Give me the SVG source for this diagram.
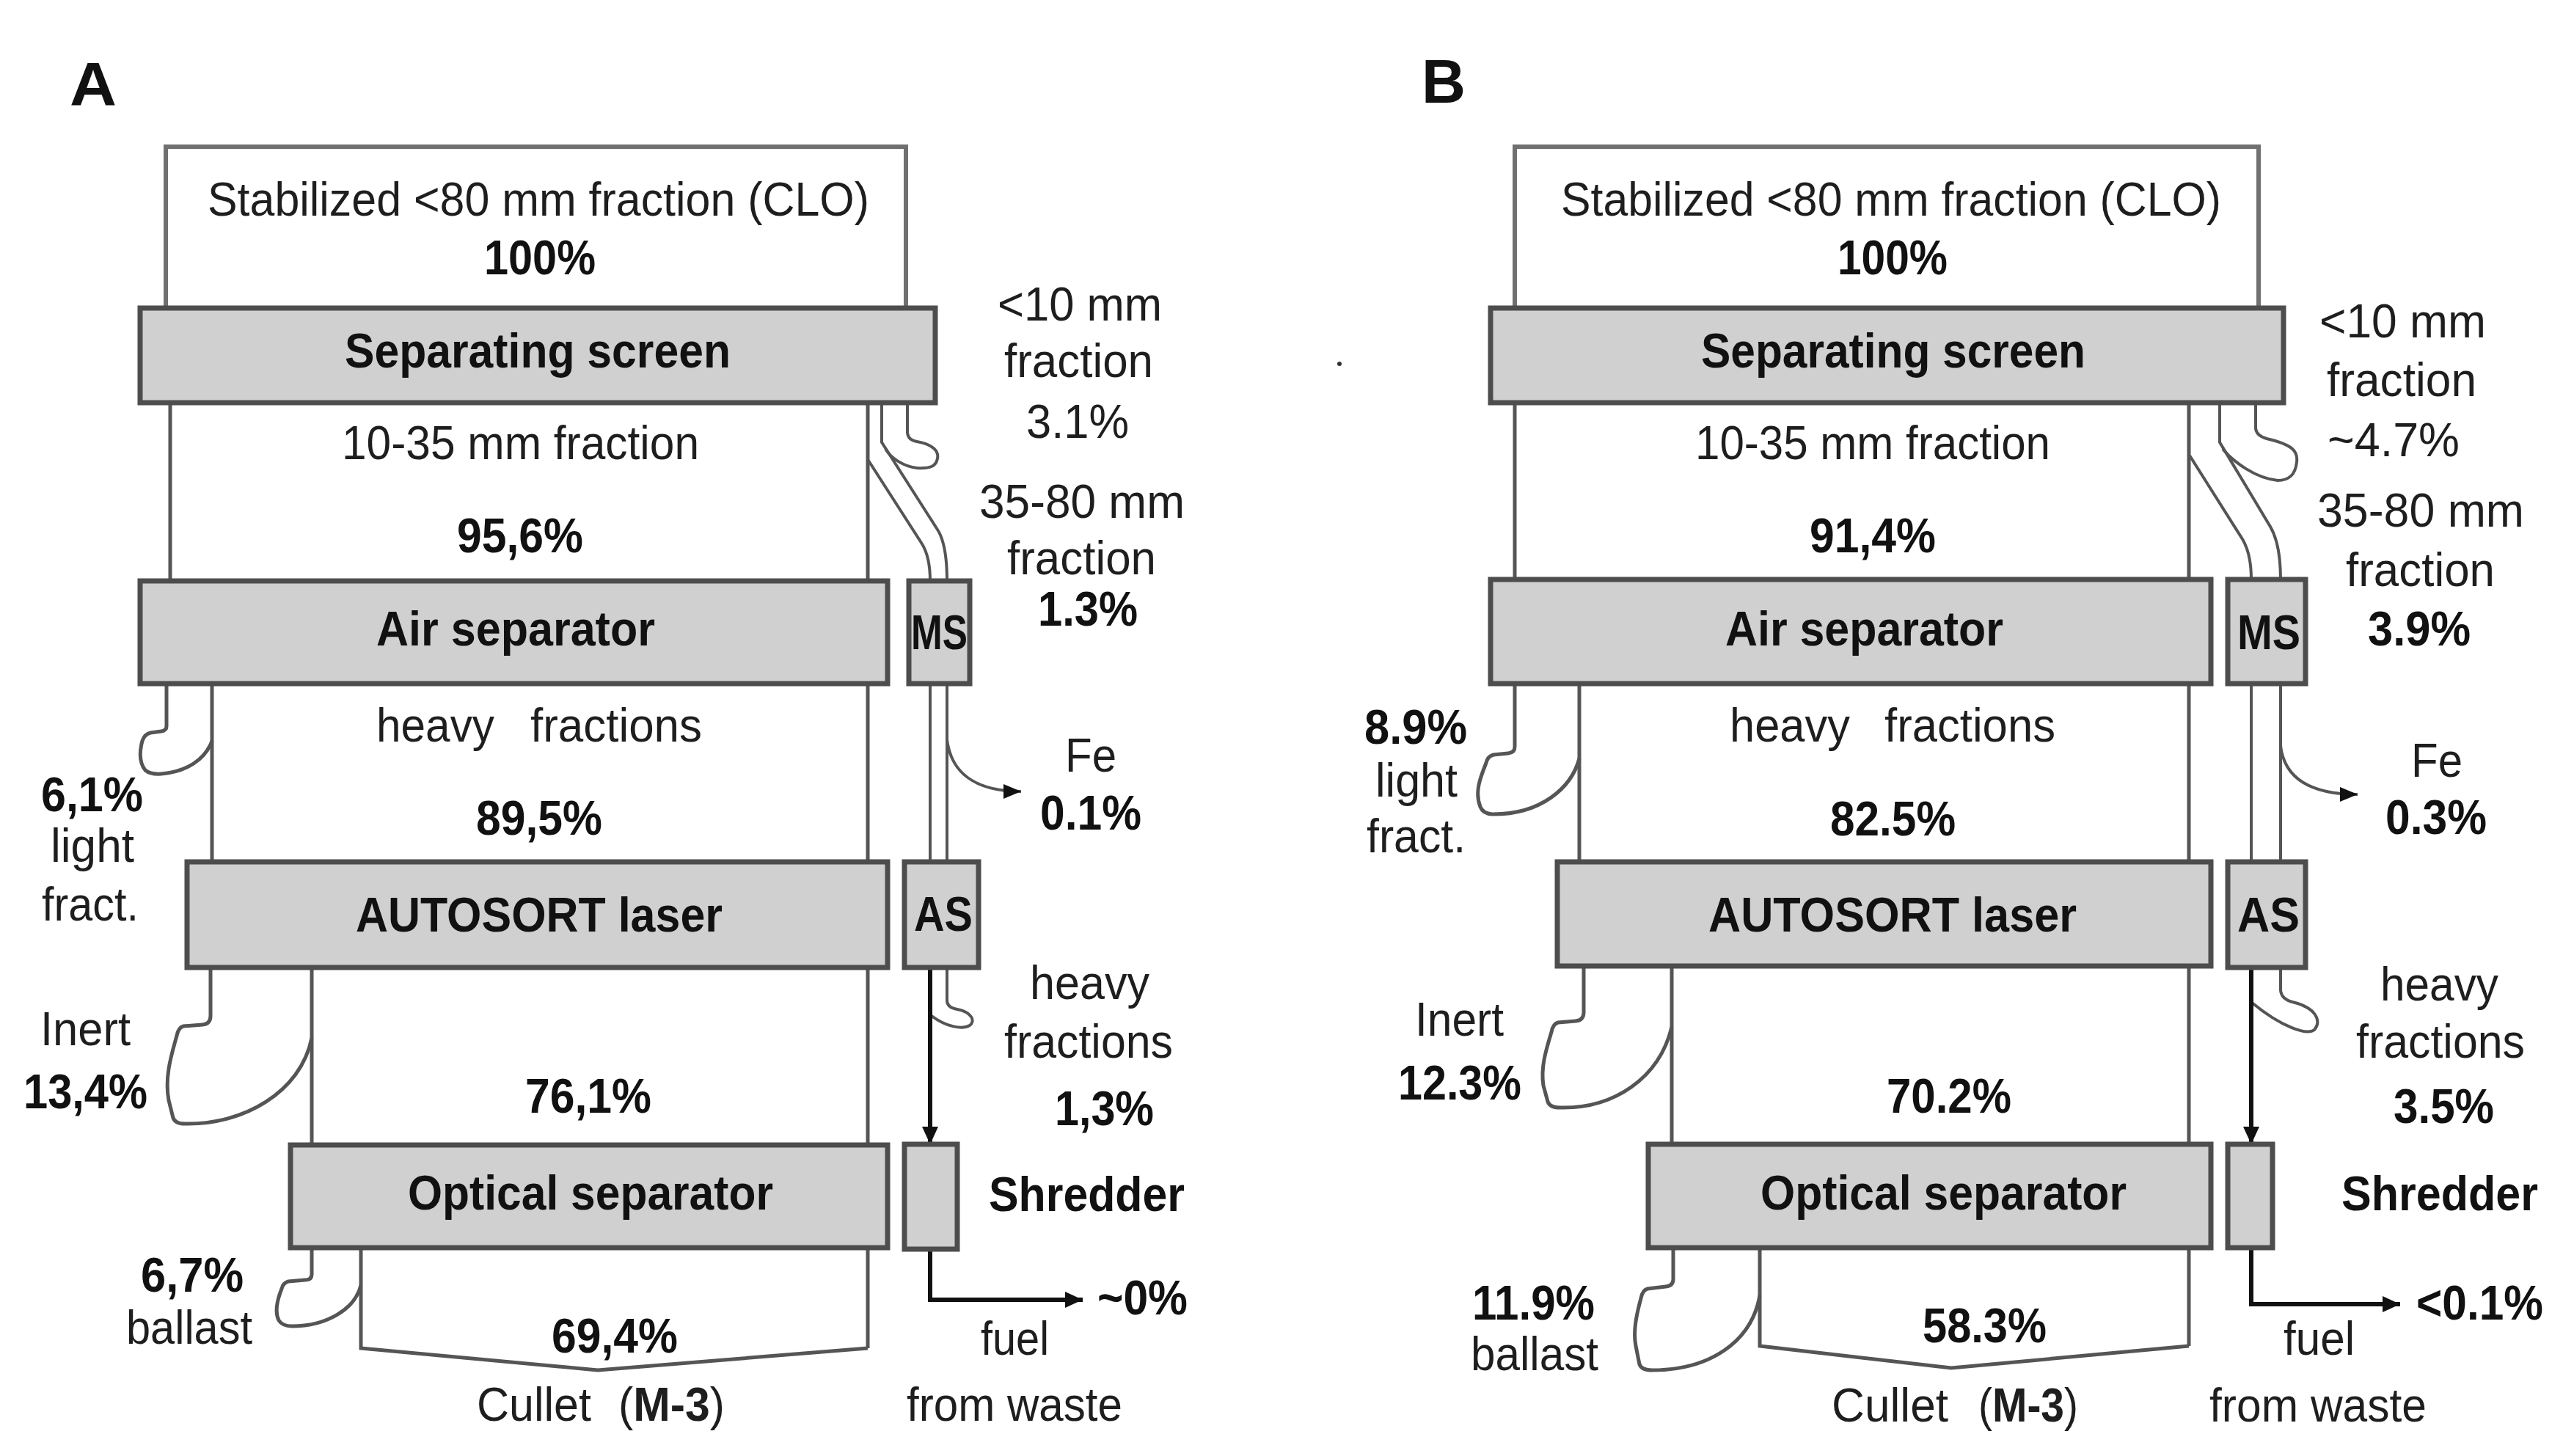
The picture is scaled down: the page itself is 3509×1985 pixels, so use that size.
<svg xmlns="http://www.w3.org/2000/svg" width="3509" height="1985" viewBox="0 0 3509 1985">
<style>
text{font-family:"Liberation Sans",Arial,sans-serif;font-size:64px;fill:#1e1e1e}
.b{font-weight:bold;font-size:66px;fill:#111}
.lbl{font-weight:bold;font-size:84px;fill:#111}
.box{fill:#d0d0d0;stroke:#4d4d4d;stroke-width:7}
.top{fill:#fff;stroke:#707070;stroke-width:6}
.w{fill:none;stroke:#555;stroke-width:5}
.t{fill:none;stroke:#555;stroke-width:4}
.k{fill:none;stroke:#111;stroke-width:6}
</style>
<defs>
<marker id="ah" markerUnits="userSpaceOnUse" markerWidth="26" markerHeight="24" refX="24" refY="12" orient="auto"><path d="M0,1 L24,12 L0,23 Z" fill="#111"/></marker>
<marker id="ahs" markerUnits="userSpaceOnUse" markerWidth="26" markerHeight="24" refX="24" refY="12" orient="auto"><path d="M0,2 L24,12 L0,22 Z" fill="#111"/></marker>
</defs>
<rect width="3509" height="1985" fill="#fff"/>
<text class="lbl" x="95" y="144" textLength="64" lengthAdjust="spacingAndGlyphs">A</text>
<text class="lbl" x="1938" y="140" textLength="60" lengthAdjust="spacingAndGlyphs">B</text>
<circle cx="1826" cy="496" r="3" fill="#333"/>

<!-- ================= connectors ================= -->
<g id="connectors">
  <!-- panel A walls -->
  <path class="w" d="M232 549V792 M1183 549V792 M1183 932V1175 M1183 1319V1561 M1183 1701V1838"/>
  <path class="w" d="M289 932V1175 M425 1319V1561 M492 1701V1838 L815 1868 L1183 1838"/>
  <path class="w" d="M227 932V990 Q227 996 220 997 L205 999 Q197 1001 194 1010 C190 1025 190 1040 198 1050 Q205 1056 220 1055 C255 1052 280 1035 289 1010"/>
  <path class="w" d="M287 1319V1385 Q287 1396 276 1397 L250 1399 Q243 1401 241 1412 C234 1437 224 1468 230 1500 L236 1524 Q239 1532 252 1532 C330 1534 410 1490 425 1415"/>
  <path class="w" d="M425 1701V1737 Q425 1745 416 1745 L393 1747 Q386 1749 384 1757 C378 1772 374 1788 380 1800 Q385 1808 398 1808 C445 1808 484 1785 492 1752"/>
  <path class="t" d="M1184 628 L1256 740 Q1268 758 1268 792"/>
  <path class="t" d="M1202 549V603 L1278 722 Q1291 742 1291 792"/>
  <path class="t" d="M1237 549V590 Q1238 600 1250 602 C1272 606 1280 615 1278 625 C1276 636 1268 639 1250 638 C1232 636 1215 625 1207 612"/>
  <path class="t" d="M1268 932V1175 M1291 932V1175"/>
  <path class="t" d="M1291 1008 C1296 1050 1325 1079 1392 1079" marker-end="url(#ahs)"/>
  <path class="t" d="M1291 1319V1365 Q1292 1374 1305 1376 C1325 1380 1330 1392 1322 1398 C1312 1404 1290 1400 1270 1385"/>
  <path class="k" d="M1268 1319V1560" marker-end="url(#ah)"/>
  <path class="k" d="M1268 1703V1772H1476" marker-end="url(#ah)"/>

  <!-- panel B walls -->
  <path class="w" d="M2065 549V790 M2984 549V790 M2984 932V1175 M2984 1317V1560 M2984 1701V1835"/>
  <path class="w" d="M2153 932V1175 M2279 1317V1560 M2399 1701V1835 L2660 1865 L2984 1835"/>
  <path class="w" d="M2065 932V1018 Q2065 1026 2056 1027 L2036 1029 Q2028 1031 2026 1040 C2018 1060 2010 1080 2018 1100 Q2022 1110 2036 1110 C2100 1110 2142 1075 2153 1034"/>
  <path class="w" d="M2159 1317V1380 Q2159 1391 2148 1392 L2124 1394 Q2117 1396 2115 1407 C2108 1430 2100 1455 2104 1480 L2110 1502 Q2113 1510 2126 1510 C2200 1512 2262 1470 2279 1400"/>
  <path class="w" d="M2281 1701V1744 Q2281 1753 2271 1754 L2246 1757 Q2239 1759 2237 1770 C2231 1792 2226 1815 2230 1835 L2235 1860 Q2238 1868 2252 1868 C2330 1868 2388 1830 2399 1766"/>
  <path class="t" d="M2985 621 L3057 735 Q3069 755 3069 790"/>
  <path class="t" d="M3026 549V603 L3095 718 Q3109 742 3109 790"/>
  <path class="t" d="M3075 549V584 Q3076 594 3090 598 C3125 606 3133 615 3131 630 C3129 648 3120 655 3105 655 C3075 652 3045 630 3030 612"/>
  <path class="t" d="M3069 932V1175 M3109 932V1175"/>
  <path class="t" d="M3109 1017 C3114 1058 3145 1083 3214 1083" marker-end="url(#ahs)"/>
  <path class="t" d="M3109 1319V1350 Q3110 1362 3125 1366 C3158 1374 3165 1392 3155 1404 C3145 1412 3110 1400 3070 1367"/>
  <path class="k" d="M3069 1319V1560" marker-end="url(#ah)"/>
  <path class="k" d="M3069 1701V1778H3272" marker-end="url(#ah)"/>
</g>

<!-- ================= panel A nodes ================= -->
<g id="A-input">
  <rect class="top" x="226" y="200" width="1009" height="224"/>
  <text x="283" y="294" textLength="902" lengthAdjust="spacingAndGlyphs">Stabilized &lt;80 mm fraction (CLO)</text>
  <text class="b" x="660" y="374" textLength="152" lengthAdjust="spacingAndGlyphs">100%</text>
</g>
<g id="A-screen">
  <rect class="box" x="191" y="420" width="1084" height="129"/>
  <text class="b" x="470" y="501" textLength="526" lengthAdjust="spacingAndGlyphs">Separating screen</text>
</g>
<g id="A-flow1">
  <text x="466" y="626" textLength="487" lengthAdjust="spacingAndGlyphs">10-35 mm fraction</text>
  <text class="b" x="623" y="753" textLength="172" lengthAdjust="spacingAndGlyphs">95,6%</text>
</g>
<g id="A-fine">
  <text x="1360" y="437" textLength="224" lengthAdjust="spacingAndGlyphs">&lt;10 mm</text>
  <text x="1369" y="514" textLength="203" lengthAdjust="spacingAndGlyphs">fraction</text>
  <text x="1399" y="597" textLength="140" lengthAdjust="spacingAndGlyphs">3.1%</text>
</g>
<g id="A-coarse">
  <text x="1335" y="706" textLength="280" lengthAdjust="spacingAndGlyphs">35-80 mm</text>
  <text x="1373" y="783" textLength="203" lengthAdjust="spacingAndGlyphs">fraction</text>
  <text class="b" x="1415" y="853" textLength="136" lengthAdjust="spacingAndGlyphs">1.3%</text>
</g>
<g id="A-air">
  <rect class="box" x="191" y="792" width="1019" height="140"/>
  <text class="b" x="513" y="880" textLength="380" lengthAdjust="spacingAndGlyphs">Air separator</text>
</g>
<g id="A-ms">
  <rect class="box" x="1239" y="792" width="83" height="140"/>
  <text class="b" x="1242" y="885" textLength="77" lengthAdjust="spacingAndGlyphs">MS</text>
</g>
<g id="A-flow2">
  <text x="513" y="1011" textLength="161" lengthAdjust="spacingAndGlyphs">heavy</text>
  <text x="723" y="1011" textLength="234" lengthAdjust="spacingAndGlyphs">fractions</text>
  <text class="b" x="649" y="1138" textLength="172" lengthAdjust="spacingAndGlyphs">89,5%</text>
</g>
<g id="A-light">
  <text class="b" x="56" y="1106" textLength="139" lengthAdjust="spacingAndGlyphs">6,1%</text>
  <text x="69" y="1175" textLength="114" lengthAdjust="spacingAndGlyphs">light</text>
  <text x="57" y="1255" textLength="132" lengthAdjust="spacingAndGlyphs">fract.</text>
</g>
<g id="A-fe">
  <text x="1452" y="1052" textLength="70" lengthAdjust="spacingAndGlyphs">Fe</text>
  <text class="b" x="1418" y="1131" textLength="138" lengthAdjust="spacingAndGlyphs">0.1%</text>
</g>
<g id="A-autosort">
  <rect class="box" x="255" y="1175" width="955" height="144"/>
  <text class="b" x="485" y="1270" textLength="500" lengthAdjust="spacingAndGlyphs">AUTOSORT laser</text>
</g>
<g id="A-as">
  <rect class="box" x="1233" y="1175" width="101" height="144"/>
  <text class="b" x="1246" y="1269" textLength="80" lengthAdjust="spacingAndGlyphs">AS</text>
</g>
<g id="A-inert">
  <text x="55" y="1425" textLength="123" lengthAdjust="spacingAndGlyphs">Inert</text>
  <text class="b" x="32" y="1511" textLength="169" lengthAdjust="spacingAndGlyphs">13,4%</text>
</g>
<g id="A-flow3">
  <text class="b" x="716" y="1517" textLength="172" lengthAdjust="spacingAndGlyphs">76,1%</text>
</g>
<g id="A-heavy">
  <text x="1404" y="1362" textLength="163" lengthAdjust="spacingAndGlyphs">heavy</text>
  <text x="1369" y="1442" textLength="230" lengthAdjust="spacingAndGlyphs">fractions</text>
  <text class="b" x="1438" y="1534" textLength="135" lengthAdjust="spacingAndGlyphs">1,3%</text>
</g>
<g id="A-optical">
  <rect class="box" x="396" y="1561" width="814" height="140"/>
  <text class="b" x="556" y="1649" textLength="498" lengthAdjust="spacingAndGlyphs">Optical separator</text>
</g>
<g id="A-shredder">
  <rect class="box" x="1233" y="1560" width="72" height="143"/>
  <text class="b" x="1348" y="1651" textLength="267" lengthAdjust="spacingAndGlyphs">Shredder</text>
</g>
<g id="A-ballast">
  <text class="b" x="192" y="1761" textLength="140" lengthAdjust="spacingAndGlyphs">6,7%</text>
  <text x="172" y="1832" textLength="172" lengthAdjust="spacingAndGlyphs">ballast</text>
</g>
<g id="A-cullet">
  <text class="b" x="752" y="1844" textLength="172" lengthAdjust="spacingAndGlyphs">69,4%</text>
  <text x="650" y="1937" textLength="156" lengthAdjust="spacingAndGlyphs">Cullet</text>
  <text x="843" y="1937" textLength="145" lengthAdjust="spacingAndGlyphs">(<tspan font-weight="bold">M-3</tspan>)</text>
</g>
<g id="A-fuel">
  <text class="b" x="1496" y="1792" textLength="123" lengthAdjust="spacingAndGlyphs">~0%</text>
  <text x="1337" y="1847" textLength="93" lengthAdjust="spacingAndGlyphs">fuel</text>
  <text x="1236" y="1937" textLength="294" lengthAdjust="spacingAndGlyphs">from waste</text>
</g>

<!-- ================= panel B nodes ================= -->
<g id="B-input">
  <rect class="top" x="2065" y="200" width="1014" height="224"/>
  <text x="2128" y="294" textLength="900" lengthAdjust="spacingAndGlyphs">Stabilized &lt;80 mm fraction (CLO)</text>
  <text class="b" x="2505" y="374" textLength="150" lengthAdjust="spacingAndGlyphs">100%</text>
</g>
<g id="B-screen">
  <rect class="box" x="2032" y="420" width="1081" height="129"/>
  <text class="b" x="2319" y="501" textLength="524" lengthAdjust="spacingAndGlyphs">Separating screen</text>
</g>
<g id="B-flow1">
  <text x="2311" y="626" textLength="484" lengthAdjust="spacingAndGlyphs">10-35 mm fraction</text>
  <text class="b" x="2467" y="753" textLength="172" lengthAdjust="spacingAndGlyphs">91,4%</text>
</g>
<g id="B-fine">
  <text x="3162" y="460" textLength="227" lengthAdjust="spacingAndGlyphs">&lt;10 mm</text>
  <text x="3172" y="540" textLength="204" lengthAdjust="spacingAndGlyphs">fraction</text>
  <text x="3173" y="622" textLength="180" lengthAdjust="spacingAndGlyphs">~4.7%</text>
</g>
<g id="B-coarse">
  <text x="3159" y="718" textLength="282" lengthAdjust="spacingAndGlyphs">35-80 mm</text>
  <text x="3198" y="799" textLength="203" lengthAdjust="spacingAndGlyphs">fraction</text>
  <text class="b" x="3228" y="880" textLength="140" lengthAdjust="spacingAndGlyphs">3.9%</text>
</g>
<g id="B-air">
  <rect class="box" x="2032" y="790" width="982" height="142"/>
  <text class="b" x="2352" y="880" textLength="379" lengthAdjust="spacingAndGlyphs">Air separator</text>
</g>
<g id="B-ms">
  <rect class="box" x="3037" y="790" width="106" height="142"/>
  <text class="b" x="3050" y="885" textLength="86" lengthAdjust="spacingAndGlyphs">MS</text>
</g>
<g id="B-flow2">
  <text x="2358" y="1011" textLength="164" lengthAdjust="spacingAndGlyphs">heavy</text>
  <text x="2569" y="1011" textLength="233" lengthAdjust="spacingAndGlyphs">fractions</text>
  <text class="b" x="2495" y="1139" textLength="171" lengthAdjust="spacingAndGlyphs">82.5%</text>
</g>
<g id="B-light">
  <text class="b" x="1860" y="1014" textLength="140" lengthAdjust="spacingAndGlyphs">8.9%</text>
  <text x="1875" y="1086" textLength="112" lengthAdjust="spacingAndGlyphs">light</text>
  <text x="1863" y="1162" textLength="135" lengthAdjust="spacingAndGlyphs">fract.</text>
</g>
<g id="B-fe">
  <text x="3287" y="1059" textLength="70" lengthAdjust="spacingAndGlyphs">Fe</text>
  <text class="b" x="3252" y="1137" textLength="138" lengthAdjust="spacingAndGlyphs">0.3%</text>
</g>
<g id="B-autosort">
  <rect class="box" x="2123" y="1175" width="891" height="142"/>
  <text class="b" x="2329" y="1270" textLength="502" lengthAdjust="spacingAndGlyphs">AUTOSORT laser</text>
</g>
<g id="B-as">
  <rect class="box" x="3037" y="1175" width="106" height="144"/>
  <text class="b" x="3050" y="1270" textLength="85" lengthAdjust="spacingAndGlyphs">AS</text>
</g>
<g id="B-inert">
  <text x="1929" y="1412" textLength="121" lengthAdjust="spacingAndGlyphs">Inert</text>
  <text class="b" x="1906" y="1499" textLength="168" lengthAdjust="spacingAndGlyphs">12.3%</text>
</g>
<g id="B-flow3">
  <text class="b" x="2572" y="1517" textLength="170" lengthAdjust="spacingAndGlyphs">70.2%</text>
</g>
<g id="B-heavy">
  <text x="3245" y="1364" textLength="161" lengthAdjust="spacingAndGlyphs">heavy</text>
  <text x="3212" y="1442" textLength="230" lengthAdjust="spacingAndGlyphs">fractions</text>
  <text class="b" x="3263" y="1531" textLength="137" lengthAdjust="spacingAndGlyphs">3.5%</text>
</g>
<g id="B-optical">
  <rect class="box" x="2247" y="1560" width="767" height="141"/>
  <text class="b" x="2400" y="1649" textLength="499" lengthAdjust="spacingAndGlyphs">Optical separator</text>
</g>
<g id="B-shredder">
  <rect class="box" x="3037" y="1560" width="61" height="141"/>
  <text class="b" x="3192" y="1650" textLength="268" lengthAdjust="spacingAndGlyphs">Shredder</text>
</g>
<g id="B-ballast">
  <text class="b" x="2007" y="1799" textLength="167" lengthAdjust="spacingAndGlyphs">11.9%</text>
  <text x="2005" y="1868" textLength="174" lengthAdjust="spacingAndGlyphs">ballast</text>
</g>
<g id="B-cullet">
  <text class="b" x="2621" y="1830" textLength="169" lengthAdjust="spacingAndGlyphs">58.3%</text>
  <text x="2497" y="1938" textLength="159" lengthAdjust="spacingAndGlyphs">Cullet</text>
  <text x="2697" y="1938" textLength="136" lengthAdjust="spacingAndGlyphs">(<tspan font-weight="bold">M-3</tspan>)</text>
</g>
<g id="B-fuel">
  <text class="b" x="3294" y="1799" textLength="173" lengthAdjust="spacingAndGlyphs">&lt;0.1%</text>
  <text x="3113" y="1847" textLength="97" lengthAdjust="spacingAndGlyphs">fuel</text>
  <text x="3012" y="1938" textLength="296" lengthAdjust="spacingAndGlyphs">from waste</text>
</g>
</svg>
